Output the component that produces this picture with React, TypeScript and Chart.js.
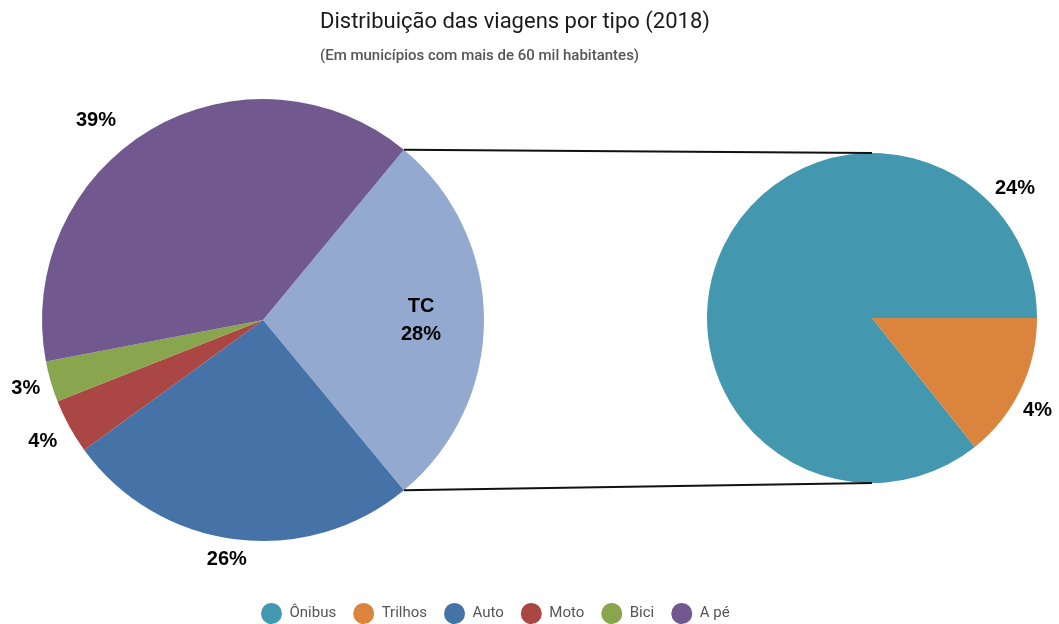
import { useEffect, useRef } from "react";
import { Chart, registerables } from "chart.js";

Chart.register(...registerables);

const titleText = "Distribuição das viagens por tipo (2018)";
const subtitleText = "(Em municípios com mais de 60 mil habitantes)";

// Left pie (all trips)
const leftCategories = ["TC", "Auto", "Moto", "Bici", "A pé"];
const leftValues = [28, 26, 4, 3, 39];
const leftColors = ["#93A9CF", "#4572A7", "#AA4643", "#89A54E", "#71588F"];
const leftLabelShowName = [true, false, false, false, false];
const leftLabelRadius = [0.715, 1.094, 1.137, 1.118, 1.176];
const leftLabelShift = [0, 1.4, 0, 0, -9.4];

// Right pie (breakdown of TC)
const rightCategories = ["Ônibus", "Trilhos"];
const rightValues = [24, 4];
const rightColors = ["#4397AE", "#DB843D"];
const rightLabelShowName = [false, false];
const rightLabelRadius = [1.171, 1.148];
const rightLabelShift = [112, 3.4];

// Legend
const legendCategories = ["Ônibus", "Trilhos", "Auto", "Moto", "Bici", "A pé"];
const legendColors = ["#4397AE", "#DB843D", "#4572A7", "#AA4643", "#89A54E", "#71588F"];

const W = 1059;
const H = 624;

function sum(a: number[]) {
  return a.reduce((s, v) => s + v, 0);
}

function makeLabelPlugin(
  id: string,
  categories: string[],
  values: number[],
  showName: boolean[],
  radii: number[],
  shifts: number[]
) {
  return {
    id,
    afterDatasetsDraw(chart: any) {
      const meta = chart.getDatasetMeta(0);
      const ctx = chart.ctx as CanvasRenderingContext2D;
      ctx.save();
      ctx.font = 'bold 20px "Liberation Sans", Arial, sans-serif';
      ctx.fillStyle = "#000";
      ctx.textAlign = "center";
      ctx.textBaseline = "middle";
      meta.data.forEach((arc: any, i: number) => {
        const p = arc.getProps(["x", "y", "startAngle", "endAngle", "outerRadius"], true);
        const a = (p.startAngle + p.endAngle) / 2 + (shifts[i] * Math.PI) / 180;
        const r = p.outerRadius * radii[i];
        const cx = p.x + r * Math.cos(a);
        const cy = p.y + r * Math.sin(a);
        const lines = showName[i] ? [categories[i], `${values[i]}%`] : [`${values[i]}%`];
        const lh = 28;
        lines.forEach((t, k) => {
          ctx.fillText(t, cx, cy + (k - (lines.length - 1) / 2) * lh);
        });
      });
      ctx.restore();
    },
  };
}

export default function App() {
  const leftRef = useRef<HTMLCanvasElement>(null);
  const rightRef = useRef<HTMLCanvasElement>(null);
  const titleRef = useRef<HTMLCanvasElement>(null);
  const legendRef = useRef<HTMLCanvasElement>(null);

  useEffect(() => {
    Chart.defaults.font.family = "Roboto, 'Noto Sans', sans-serif";

    const pieDataset = (values: number[], colors: string[]) => ({
      data: values,
      backgroundColor: colors,
      borderWidth: 0,
      hoverBorderWidth: 0,
      offset: 0,
      hoverOffset: 0,
    });

    const leftRotation = 90 - (leftValues[0] / sum(leftValues)) * 180;
    const left = new Chart(leftRef.current!, {
      type: "pie",
      data: {
        labels: leftCategories,
        datasets: [pieDataset(leftValues, leftColors) as any],
      },
      options: {
        responsive: false,
        animation: false,
        events: [],
        rotation: leftRotation,
        layout: { padding: { left: 42, right: W - 484, top: 98, bottom: H - 542 } },
        plugins: { legend: { display: false }, tooltip: { enabled: false }, title: { display: false } },
      },
      plugins: [
        makeLabelPlugin("leftLabels", leftCategories, leftValues, leftLabelShowName, leftLabelRadius, leftLabelShift),
      ],
    });

    const connector = {
      id: "connector",
      afterDatasetsDraw(chart: any) {
        const arc = left.getDatasetMeta(0).data[0] as any;
        if (!arc) return;
        const p = arc.getProps(["x", "y", "startAngle", "endAngle", "outerRadius"], true);
        const rp = (chart.getDatasetMeta(0).data[0] as any).getProps(["x", "y", "outerRadius"], true);
        const ctx = chart.ctx as CanvasRenderingContext2D;
        ctx.save();
        ctx.strokeStyle = "#111";
        ctx.lineWidth = 2;
        ctx.beginPath();
        ctx.moveTo(p.x + p.outerRadius * Math.cos(p.startAngle), p.y + p.outerRadius * Math.sin(p.startAngle));
        ctx.lineTo(rp.x, rp.y - rp.outerRadius);
        ctx.moveTo(p.x + p.outerRadius * Math.cos(p.endAngle), p.y + p.outerRadius * Math.sin(p.endAngle));
        ctx.lineTo(rp.x, rp.y + rp.outerRadius);
        ctx.stroke();
        ctx.restore();
      },
    };

    const rightRotation = 90 + (rightValues[1] / sum(rightValues)) * 360;
    const right = new Chart(rightRef.current!, {
      type: "pie",
      data: {
        labels: rightCategories,
        datasets: [pieDataset(rightValues, rightColors) as any],
      },
      options: {
        responsive: false,
        animation: false,
        events: [],
        rotation: rightRotation,
        layout: { padding: { left: 707, right: 22, top: 153, bottom: H - 483 } },
        plugins: { legend: { display: false }, tooltip: { enabled: false }, title: { display: false } },
      },
      plugins: [
        connector,
        makeLabelPlugin("rightLabels", rightCategories, rightValues, rightLabelShowName, rightLabelRadius, rightLabelShift),
      ],
    });

    const titles = new Chart(titleRef.current!, {
      type: "pie",
      data: { labels: [], datasets: [] },
      options: {
        responsive: false,
        animation: false,
        events: [],
        plugins: {
          legend: { display: false },
          tooltip: { enabled: false },
          title: {
            display: true,
            text: titleText,
            align: "start",
            color: "#1a1a1a",
            font: { size: 22, weight: "normal" },
            padding: { top: 9, bottom: 0 },
          },
          subtitle: {
            display: true,
            text: subtitleText,
            align: "start",
            color: "#555",
            font: { size: 15, weight: "500" },
            padding: { top: 12, bottom: 0 },
          },
        },
      },
    });

    const legend = new Chart(legendRef.current!, {
      type: "pie",
      data: { labels: legendCategories, datasets: [] },
      options: {
        responsive: false,
        animation: false,
        events: [],
        plugins: {
          tooltip: { enabled: false },
          legend: {
            display: true,
            position: "top",
            align: "start",
            labels: {
              usePointStyle: true,
              pointStyle: "circle",
              pointStyleWidth: 21,
              boxHeight: 15,
              padding: 17,
              color: "#555",
              font: { size: 15 },
              generateLabels: () =>
                legendCategories.map((t, i) => ({
                  text: t,
                  fillStyle: legendColors[i],
                  strokeStyle: legendColors[i],
                  lineWidth: 0,
                  pointStyle: "circle",
                  hidden: false,
                  index: i,
                  fontColor: "#555",
                })) as any,
            },
          },
        },
      },
    });

    return () => {
      legend.destroy();
      titles.destroy();
      right.destroy();
      left.destroy();
    };
  }, []);

  const abs = (l: number, t: number, w: number, h: number): React.CSSProperties => ({
    position: "absolute",
    left: l,
    top: t,
    width: w,
    height: h,
  });

  return (
    <div style={{ position: "absolute", left: 0, top: 0, width: W, height: H, overflow: "hidden", background: "#fff" }}>
      <canvas ref={leftRef} width={W} height={H} style={abs(0, 0, W, H)} />
      <canvas ref={rightRef} width={W} height={H} style={abs(0, 0, W, H)} />
      <canvas ref={titleRef} width={600} height={90} style={abs(320, 0, 600, 90)} />
      <canvas ref={legendRef} width={560} height={80} style={abs(244, 589, 560, 80)} />
    </div>
  );
}
